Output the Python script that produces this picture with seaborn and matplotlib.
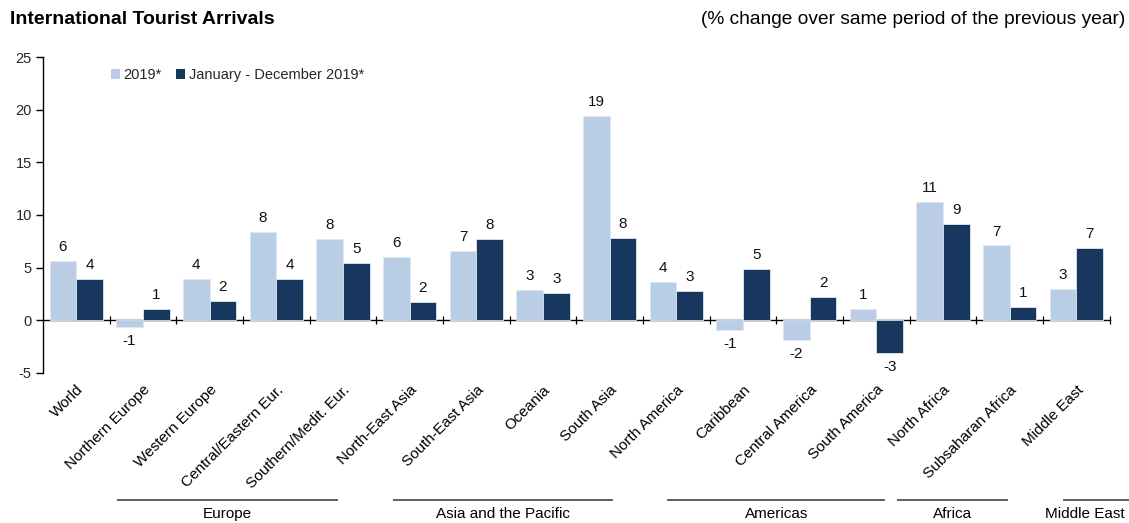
import numpy as np
import pandas as pd
import matplotlib
matplotlib.use("Agg")
import matplotlib.pyplot as plt
import seaborn as sns
from matplotlib.transforms import blended_transform_factory
from matplotlib.patches import Patch

categories = ["World", "Northern Europe", "Western Europe", "Central/Eastern Eur.",
              "Southern/Medit. Eur.", "North-East Asia", "South-East Asia", "Oceania",
              "South Asia", "North America", "Caribbean", "Central America",
              "South America", "North Africa", "Subsaharan Africa", "Middle East"]
series_names = ["2019*", "January - December 2019*"]
vals_2019 = [5.6, -0.6, 3.9, 8.4, 7.7, 6.0, 6.6, 2.9, 19.4, 3.6, -0.9, -1.9, 1.1, 11.2, 7.1, 3.0]
vals_jan_dec = [3.9, 1.1, 1.8, 3.9, 5.4, 1.7, 7.7, 2.55, 7.8, 2.8, 4.9, 2.2, -3.1, 9.1, 1.3, 6.9]
groups = ["Europe", "Asia and the Pacific", "Americas", "Africa", "Middle East"]
group_spans = [(0.61, 3.93), (4.75, 8.05), (8.86, 12.13), (12.31, 13.97), (14.8, 15.85)]
group_label_x = [2.27, 6.4, 10.5, 13.14, 15.12]
y_ticks = [-5, 0, 5, 10, 15, 20, 25]

colors = ["#B9CDE5", "#17375E"]

df = pd.DataFrame({
    "category": categories * 2,
    "series": [series_names[0]] * len(categories) + [series_names[1]] * len(categories),
    "value": vals_2019 + vals_jan_dec,
})

sns.set_theme(style="white")
plt.rcParams["font.family"] = ["Liberation Sans", "DejaVu Sans"]

fig = plt.figure(figsize=(11.29, 5.23), dpi=100)
ax = fig.add_axes([0.038, 0.287, 0.945, 0.604])

sns.barplot(data=df, x="category", y="value", hue="series", order=categories,
            hue_order=series_names, palette=colors, width=0.8, saturation=1,
            edgecolor="#dfe7f1", linewidth=0.6, ax=ax, legend=False)

ax.set_xlim(-0.5, len(categories) - 0.5)
ax.set_ylim(-5, 25)
ax.set_yticks(y_ticks)
ax.set_yticklabels([str(t) for t in y_ticks], fontsize=10.5)
ax.set_xlabel("")
ax.set_ylabel("")

for s in ["top", "right", "bottom"]:
    ax.spines[s].set_visible(False)
ax.spines["left"].set_color("black")
ax.spines["left"].set_linewidth(1.0)
ax.tick_params(axis="y", direction="out", length=5, width=1, color="black", pad=3, left=True)

# category labels
ax.set_xticks(range(len(categories)))
ax.set_xticklabels(categories, rotation=45, ha="right", rotation_mode="anchor",
                   fontsize=11, color="black")
ax.tick_params(axis="x", length=0, pad=7, bottom=True)
for lbl in ax.get_xticklabels():
    lbl.set_x(lbl.get_position()[0])

# zero line with separator ticks
sec = ax.secondary_xaxis(5 / 30)
sec.set_xticks(np.arange(0.5, len(categories), 1.0))
sec.set_xticklabels([])
sec.tick_params(direction="inout", length=6, width=0.9, color="black")
sec.spines["bottom"].set_color("black")
sec.spines["bottom"].set_linewidth(1.0)

# value labels
for cont in ax.containers:
    labels = []
    for bar in cont:
        h = bar.get_height()
        labels.append(str(int(np.sign(h) * np.floor(abs(h) + 0.5))))
    ax.bar_label(cont, labels=labels, padding=5, fontsize=11, color="#111111")

# legend
handles = [Patch(facecolor=c, edgecolor="none") for c in colors]
ax.legend(handles, series_names, loc="center left", bbox_to_anchor=(0.064, 0.943),
          ncol=2, frameon=False, handlelength=0.6, handleheight=0.6,
          handletextpad=0.25, columnspacing=1.0, borderaxespad=0, borderpad=0,
          fontsize=10.5)

# group labels
trans = blended_transform_factory(ax.transData, fig.transFigure)
for name, (x0, x1), xc in zip(groups, group_spans, group_label_x):
    ax.plot([x0, x1], [0.044, 0.044], transform=trans, color="#555555", lw=1.3,
            clip_on=False, solid_capstyle="butt")
    ax.text(xc, 0.017, name, transform=trans, ha="center", va="center",
            fontsize=11, color="black")

fig.text(0.009, 0.962, "International Tourist Arrivals", fontsize=14, fontweight="bold",
         ha="left", va="center", color="black")
fig.text(0.997, 0.962, "(% change over same period of the previous year)", fontsize=13.8,
         ha="right", va="center", color="black")

fig.savefig("out.png", dpi=100)
